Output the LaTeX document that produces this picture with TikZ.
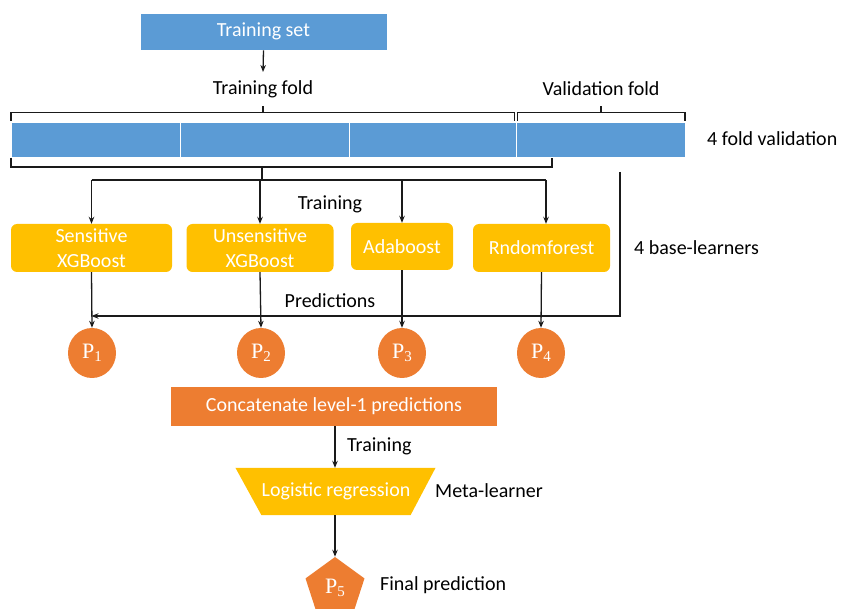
\documentclass[tikz,border=0pt]{standalone}
\usepackage{fontspec}
\setmainfont{Carlito}
\newfontfamily\predfont{Liberation Serif}
\usetikzlibrary{arrows.meta,shapes.geometric,calc,backgrounds}
\definecolor{foldblue}{HTML}{5B9BD5}
\definecolor{learnergold}{HTML}{FFC000}
\definecolor{predorange}{HTML}{ED7D31}
\definecolor{linegray}{HTML}{1A1A1A}

% prediction symbol P with a lowered index
\newcommand{\predsym}[1]{P\raisebox{-0.35ex}{\fontsize{15}{15}\selectfont #1}}

\begin{document}
\begin{tikzpicture}[x=1pt,y=-1pt,
  font=\fontsize{20}{24}\selectfont,
  conn/.style={draw=linegray, line width=1.3pt},
  arr/.style={conn,-{Stealth[length=7pt,width=5.5pt]}},
  label/.style={text=black, inner sep=1pt},
  blueblock/.style={fill=foldblue, draw=white, line width=0.8pt, text=white, inner sep=0pt},
  learner/.style={fill=learnergold, text=white, rounded corners=6pt, align=center,
    inner sep=0pt, font=\fontsize{20}{25}\selectfont},
  pnode/.style={ellipse, fill=predorange, text=white, inner sep=0pt, minimum width=48pt,
    minimum height=50pt, font=\predfont\fontsize{22}{24}\selectfont},
]
\useasboundingbox (0,0) rectangle (846,609);

% training set and folds
\node[blueblock, minimum width=247pt, minimum height=37pt] (ts) at (263.5,31.5) {Training set};
\node[label] (tf) at (263,89) {Training fold};
\node[label] (vf) at (601,89) {Validation fold};
\draw[arr] (ts.south) -- (263,72);

\node[blueblock, minimum width=169pt, minimum height=35pt] (f1) at (95.5,140) {};
\node[blueblock, minimum width=169pt, minimum height=35pt] (f2) at (264.5,140) {};
\node[blueblock, minimum width=167pt, minimum height=35pt] (f3) at (432.5,140) {};
\node[blueblock, minimum width=169pt, minimum height=35pt] (f4) at (600.5,140) {};
\node[label, anchor=west] (fv) at (706,139) {4 fold validation};

% brackets over and under the folds
\draw[conn] (11,121) -- (11,112.5) -- (514.5,112.5) -- (514.5,121);
\draw[conn] (263,112.5) -- (263,106);
\draw[conn] (517.5,121) -- (517.5,112.5) -- (685,112.5) -- (685,121);
\draw[conn] (601,112.5) -- (601,106);
\draw[conn] (11,158) -- (11,167) -- (552,167) -- (552,158);
\coordinate (split) at (262,180);
\draw[conn] (262,167) -- (split);

% base learners
\node[learner, minimum width=161pt, minimum height=48pt] (s1) at (91.5,248) {Sensitive\\XGBoost};
\node[learner, minimum width=147pt, minimum height=48pt] (s2) at (260,248) {Unsensitive\\XGBoost};
\node[learner, minimum width=102pt, minimum height=47pt] (s3) at (402,246.5) {Adaboost};
\node[learner, minimum width=137pt, minimum height=48pt] (s4) at (541.5,248) {Rndomforest};
\node[label, anchor=west] (bl) at (633,248) {4 base-learners};

\coordinate (t1) at (s1.north |- split);
\coordinate (t2) at (s2.north |- split);
\coordinate (t3) at (s3.north |- split);
\coordinate (t4) at (546,180);
\draw[conn] (t1) -- (t4);
\draw[arr] (t1) -- (s1.north);
\draw[arr] (t2) -- (s2.north);
\draw[arr] (t3) -- (s3.north);
\draw[arr] (t4) -- (t4 |- s4.north);
\node[label] (trn) at (330,204) {Training};

% level-1 predictions
\node[pnode] (p1) at (92,353) {\predsym{1}};
\node[pnode] (p2) at (261,353) {\predsym{2}};
\node[pnode] (p3) at (402,353) {\predsym{3}};
\node[pnode] (p4) at (541,353) {\predsym{4}};
\draw[arr] (s1.south) -- (p1.north);
\draw[arr] (s2.south) -- (p2.north);
\draw[arr] (s3.south) -- (p3.north);
\draw[arr] (s4.south) -- (p4.north);
\node[label] (prd) at (330,301) {Predictions};

% validation fold feeds the predictions
\coordinate (vtop) at (620,172);
\coordinate (vcorner) at (620,316);
\coordinate (vend) at (s1.south |- vcorner);
\draw[arr] (vtop) -- (vcorner) -- (vend);

% meta level
\node[fill=predorange, text=white, minimum width=326pt, minimum height=39pt, inner sep=0pt] (cc) at (334,406.5) {Concatenate level-1 predictions};
\node[text=white, minimum width=148pt, minimum height=47pt, inner sep=0pt] (lr) at (336,491.5) {Logistic regression};
\begin{scope}[on background layer]
  \fill[learnergold] ($(lr.north west)+(-26,0)$) -- ($(lr.north east)+(25,0)$) -- (lr.south east) -- (lr.south west) -- cycle;
\end{scope}
\draw[arr] (cc.south -| 335,0) -- (lr.north -| 335,0);
\node[label, anchor=west] (trn2) at (346,446) {Training};
\node[label, anchor=west] (ml) at (434,491) {Meta-learner};

\node[regular polygon, regular polygon sides=5, fill=predorange, text=white, inner sep=0pt,
  minimum size=62pt, font=\predfont\fontsize{22}{24}\selectfont] (p5) at (335,588) {\predsym{5}};
\draw[arr] (lr.south -| p5.north) -- (p5.north);
\node[label, anchor=west] (fp) at (379,585) {Final prediction};
\end{tikzpicture}
\end{document}
